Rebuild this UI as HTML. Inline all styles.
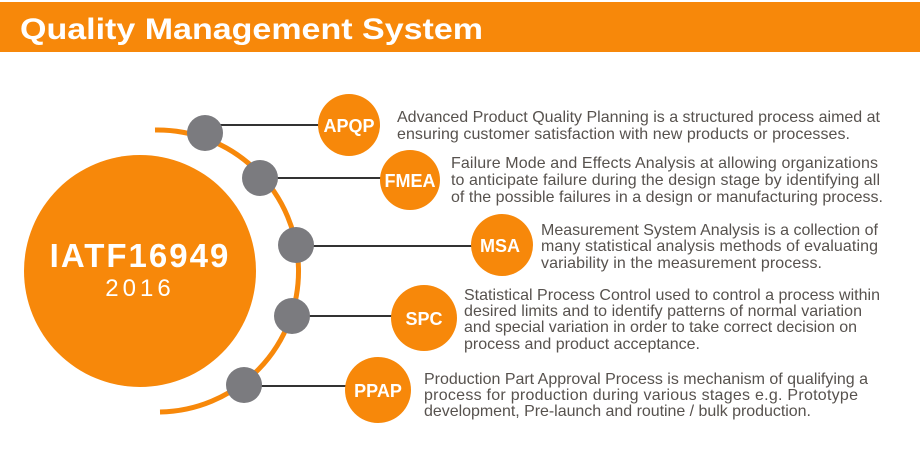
<!DOCTYPE html>
<html><head><meta charset="utf-8"><style>
html,body{margin:0;padding:0;background:#fff;}
body{width:920px;height:460px;overflow:hidden;}
</style></head><body>
<svg width="920" height="460" viewBox="0 0 920 460" xmlns="http://www.w3.org/2000/svg" font-family="Liberation Sans, sans-serif">
<rect x="0" y="0" width="920" height="460" fill="#fff"/>
<rect x="0" y="2" width="920" height="50" fill="#F7880A"/>
<text x="20" y="39" font-size="30" font-weight="bold" fill="#fff" textLength="463" lengthAdjust="spacingAndGlyphs">Quality Management System</text>

<circle cx="140" cy="271" r="116" fill="#F7880A"/>
<text x="140" y="267" font-size="33" font-weight="bold" fill="#fff" text-anchor="middle" letter-spacing="2">IATF16949</text>
<text x="140" y="296" font-size="24" fill="#fff" text-anchor="middle" letter-spacing="4">2016</text>

<path d="M 155 130 A 141 141 0 0 1 160 412" fill="none" stroke="#F7880A" stroke-width="5"/>

<g stroke="#333" stroke-width="2">
<line x1="205" y1="125" x2="320" y2="125"/>
<line x1="260" y1="178" x2="382" y2="178"/>
<line x1="296" y1="246" x2="472" y2="246"/>
<line x1="292" y1="316" x2="392" y2="316"/>
<line x1="244" y1="386" x2="348" y2="386"/>
</g>
<g fill="#7B7B7F">
<circle cx="205" cy="133" r="18"/>
<circle cx="260" cy="178" r="18"/>
<circle cx="296" cy="245" r="18"/>
<circle cx="292" cy="316" r="18"/>
<circle cx="244" cy="385" r="18"/>
</g>
<g fill="#F7880A">
<circle cx="349" cy="125" r="31"/>
<circle cx="410" cy="180" r="30"/>
<circle cx="502" cy="245" r="31"/>
<circle cx="424" cy="318" r="33"/>
<circle cx="378" cy="390" r="33"/>
</g>
<g fill="#fff" font-weight="bold" text-anchor="middle" font-size="18">
<text x="349" y="132">APQP</text>
<text x="410" y="187">FMEA</text>
<text x="500" y="252">MSA</text>
<text x="424" y="325">SPC</text>
<text x="378" y="397">PPAP</text>
</g>
<g fill="#57524e" font-size="16" lengthAdjust="spacingAndGlyphs">
<text x="397" y="122" textLength="483">Advanced Product Quality Planning is a structured process aimed at</text>
<text x="397" y="139" textLength="453">ensuring customer satisfaction with new products or processes.</text>
<text x="451" y="168" textLength="427">Failure Mode and Effects Analysis  at allowing organizations</text>
<text x="451" y="185" textLength="429">to anticipate failure during the design stage by identifying all</text>
<text x="451" y="202" textLength="432">of the possible failures in a design or manufacturing process.</text>
<text x="541" y="235" textLength="337">Measurement System Analysis is a collection of</text>
<text x="541" y="251" textLength="337">many statistical analysis methods of evaluating</text>
<text x="541" y="268" textLength="281">variability in the measurement process.</text>
<text x="464" y="300" textLength="416">Statistical Process Control used to control a process within</text>
<text x="464" y="316" textLength="398">desired limits and to identify patterns of normal variation</text>
<text x="464" y="332" textLength="393">and special variation in order to take correct decision on</text>
<text x="464" y="349" textLength="236">process and product acceptance.</text>
<text x="424" y="384" textLength="444">Production Part Approval Process is mechanism of qualifying a</text>
<text x="424" y="400" textLength="434">process for production during various stages e.g. Prototype</text>
<text x="424" y="416" textLength="387">development, Pre-launch and routine / bulk production.</text>
</g>
</svg>
</body></html>
